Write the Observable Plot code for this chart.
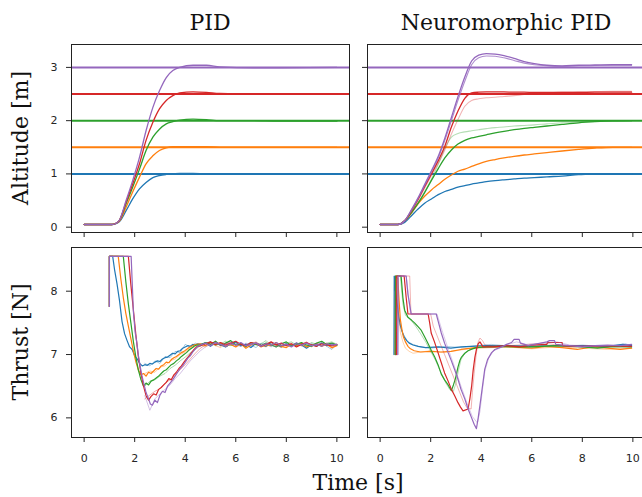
<!DOCTYPE html>
<html><head><meta charset="utf-8">
<script src="https://cdn.jsdelivr.net/npm/d3@7"></script>
<script src="https://cdn.jsdelivr.net/npm/@observablehq/plot@0.6"></script>
<style>
body{margin:0;background:#fff}
#fig{position:relative;width:642px;height:497px;overflow:hidden;background:#fff}
#fig svg{position:absolute}
</style></head><body><div id="fig"></div>
<script>
// ---------- categories / ticks ----------
const seriesNames = ["1.0 m","1.5 m","2.0 m","2.5 m","3.0 m"];
const colors = ["#1f77b4","#ff7f0e","#2ca02c","#d62728","#9467bd"];
const setpoints = [1, 1.5, 2, 2.5, 3];
const xTicks = [0,2,4,6,8,10];
const altTicks = [0,1,2,3];
const thrustTicks = [6,7,8];

// ---------- PID altitude (shared time grid) ----------
const pidAltT = [0,1.1,1.25,1.39,1.66,1.92,2.19,2.45,2.72,2.98,3.25,3.51,3.78,4.31,4.84,5.36,6.7,7.7,10.0];
const pidAltBlue   = [0.05,0.05,0.065,0.10,0.31,0.53,0.72,0.84,0.93,0.97,0.99,1.0,1.01,1.01,1.0,1.0,1.0,1.0,1.0];
const pidAltOrange = [0.05,0.05,0.07,0.11,0.375,0.66,0.94,1.19,1.34,1.44,1.49,1.51,1.51,1.51,1.51,1.5,1.5,1.5,1.5];
const pidAltGreen  = [0.05,0.05,0.07,0.125,0.44,0.75,1.09,1.44,1.69,1.84,1.94,1.98,2.01,2.03,2.02,2.0,2.0,1.99,1.99];
const pidAltRed    = [0.05,0.05,0.07,0.125,0.47,0.81,1.19,1.63,1.97,2.22,2.38,2.47,2.52,2.54,2.53,2.51,2.5,2.5,2.5];
const pidAltPurple = [0.05,0.05,0.07,0.125,0.5,0.875,1.31,1.81,2.25,2.56,2.81,2.94,3.0,3.04,3.04,3.01,2.99,2.99,3.0];

// ---------- Neuromorphic PID altitude (shared time grid) ----------
const npidAltT = [0,0.7,0.97,1.23,1.5,1.76,2.03,2.3,2.56,2.82,3.08,3.35,3.62,3.9,4.2,4.55,4.9,5.3,5.7,6.1,6.6,7.2,7.85,8.5,9.2,9.95];
const npidAltBlue    = [0.05,0.05,0.09,0.21,0.34,0.45,0.53,0.61,0.67,0.71,0.75,0.78,0.81,0.83,0.855,0.875,0.89,0.905,0.92,0.93,0.945,0.96,0.985,1.0,1.0,1.0];
const npidAltOrange  = [0.05,0.05,0.12,0.26,0.44,0.58,0.70,0.80,0.90,0.98,1.05,1.09,1.14,1.19,1.235,1.27,1.30,1.33,1.355,1.375,1.40,1.43,1.46,1.485,1.5,1.5];
const npidAltGreen   = [0.05,0.05,0.12,0.27,0.45,0.65,0.88,1.1,1.3,1.45,1.56,1.63,1.675,1.705,1.735,1.77,1.80,1.83,1.855,1.875,1.90,1.93,1.96,1.98,1.995,2.0];
const npidAltGreenB  = [0.05,0.05,0.12,0.27,0.45,0.66,0.9,1.18,1.48,1.69,1.76,1.79,1.81,1.83,1.85,1.87,1.88,1.90,1.91,1.92,1.94,1.96,1.97,1.985,1.995,2.0];
const npidAltRed     = [0.05,0.05,0.12,0.30,0.52,0.76,1.0,1.25,1.52,1.88,2.18,2.42,2.52,2.535,2.54,2.54,2.54,2.535,2.535,2.53,2.53,2.53,2.53,2.535,2.535,2.535];
const npidAltRedB    = [0.05,0.05,0.12,0.29,0.5,0.73,0.97,1.2,1.45,1.75,2.02,2.27,2.38,2.41,2.43,2.44,2.455,2.47,2.49,2.505,2.52,2.535,2.54,2.545,2.55,2.55];
const npidAltPurple  = [0.05,0.05,0.12,0.32,0.55,0.80,1.06,1.33,1.67,2.06,2.45,2.82,3.12,3.23,3.26,3.25,3.22,3.17,3.11,3.07,3.04,3.03,3.04,3.045,3.05,3.05];
const npidAltPurpleB = [0.05,0.05,0.12,0.31,0.54,0.78,1.04,1.30,1.63,2.0,2.38,2.74,3.05,3.18,3.215,3.21,3.18,3.13,3.08,3.05,3.03,3.02,3.03,3.035,3.04,3.04];

// ---------- PID thrust: transient [t, N] ----------
const pidThrBlue = [[1.0,7.76],[1.0,8.55],[1.13,8.55],[1.2,8.35],[1.3,8.12],[1.4,7.85],[1.5,7.52],[1.6,7.33],[1.7,7.22],[1.8,7.12],[1.9,7.08],[2.0,6.98],[2.1,6.93],[2.2,6.86],[2.3,6.82],[2.4,6.84],[2.5,6.83],[2.6,6.86],[2.7,6.85],[2.8,6.88],[2.9,6.90],[3.0,6.89],[3.1,6.93],[3.2,6.95],[3.3,6.96],[3.4,6.99],[3.5,7.02],[3.6,7.01],[3.7,7.05],[3.8,7.06],[3.9,7.10],[4.0,7.12],[4.1,7.14],[4.2,7.13],[4.3,7.16],[4.4,7.15],[4.5,7.17]];
const pidThrOrange = [[1.0,7.76],[1.0,8.55],[1.35,8.55],[1.45,8.2],[1.55,7.9],[1.65,7.65],[1.75,7.45],[1.85,7.25],[1.95,7.05],[2.05,6.88],[2.15,6.75],[2.25,6.68],[2.35,6.70],[2.45,6.66],[2.55,6.72],[2.65,6.70],[2.75,6.74],[2.85,6.78],[2.95,6.77],[3.05,6.82],[3.15,6.84],[3.25,6.88],[3.35,6.87],[3.45,6.92],[3.55,6.95],[3.65,6.97],[3.75,7.0],[3.85,7.03],[3.95,7.05],[4.05,7.08],[4.15,7.11],[4.25,7.13],[4.35,7.15],[4.45,7.16]];
const pidThrGreen = [[1.0,7.76],[1.0,8.55],[1.55,8.55],[1.65,8.15],[1.75,7.8],[1.85,7.5],[1.95,7.2],[2.05,6.95],[2.15,6.75],[2.25,6.6],[2.35,6.5],[2.45,6.55],[2.55,6.52],[2.65,6.58],[2.75,6.6],[2.85,6.63],[2.95,6.66],[3.05,6.70],[3.15,6.74],[3.25,6.76],[3.35,6.8],[3.45,6.84],[3.55,6.86],[3.65,6.9],[3.75,6.93],[3.85,6.97],[3.95,7.0],[4.05,7.03],[4.15,7.07],[4.25,7.1],[4.35,7.13],[4.45,7.15]];
const pidThrRed = [[1.0,7.76],[1.0,8.55],[1.75,8.55],[1.85,8.1],[1.95,7.7],[2.05,7.3],[2.15,6.95],[2.25,6.7],[2.35,6.5],[2.45,6.35],[2.55,6.28],[2.65,6.34],[2.75,6.38],[2.85,6.36],[2.95,6.45],[3.05,6.48],[3.15,6.52],[3.25,6.56],[3.35,6.62],[3.45,6.6],[3.55,6.68],[3.65,6.72],[3.75,6.78],[3.85,6.82],[3.95,6.88],[4.05,6.93],[4.15,6.98],[4.25,7.03],[4.35,7.08],[4.45,7.12]];
const pidThrPurple = [[1.0,7.76],[1.0,8.55],[1.86,8.55],[1.95,7.67],[2.02,7.35],[2.08,7.2],[2.15,6.98],[2.21,6.83],[2.28,6.68],[2.35,6.56],[2.45,6.4],[2.55,6.3],[2.62,6.22],[2.7,6.2],[2.8,6.28],[2.9,6.24],[3.0,6.36],[3.1,6.42],[3.2,6.4],[3.3,6.5],[3.4,6.55],[3.5,6.6],[3.6,6.66],[3.7,6.72],[3.8,6.78],[3.9,6.82],[4.0,6.88],[4.1,6.94],[4.2,6.98],[4.3,7.04],[4.4,7.09],[4.5,7.13]];
// PID thrust: settled part on a shared time grid
const pidSettleT = [4.6,4.8,5.0,5.2,5.4,5.6,5.8,6.0,6.2,6.4,6.6,6.8,7.0,7.2,7.4,7.6,7.8,8.0,8.2,8.4,8.6,8.8,9.0,9.2,9.4,9.6,9.8,10.0];
const pidSetBlue   = [7.16,7.18,7.13,7.19,7.15,7.12,7.17,7.20,7.14,7.16,7.11,7.18,7.15,7.13,7.19,7.16,7.12,7.17,7.14,7.18,7.15,7.10,7.16,7.13,7.18,7.14,7.17,7.15];
const pidSetOrange = [7.17,7.14,7.19,7.15,7.18,7.13,7.16,7.12,7.17,7.10,7.15,7.18,7.12,7.16,7.14,7.19,7.13,7.11,7.16,7.14,7.18,7.12,7.15,7.17,7.13,7.16,7.11,7.14];
const pidSetGreen  = [7.15,7.19,7.16,7.21,7.14,7.18,7.22,7.15,7.17,7.13,7.19,7.16,7.14,7.18,7.15,7.12,7.17,7.20,7.14,7.16,7.19,7.15,7.13,7.18,7.21,7.16,7.18,7.15];
const pidSetRed    = [7.14,7.17,7.20,7.16,7.19,7.15,7.18,7.21,7.16,7.14,7.19,7.17,7.13,7.16,7.20,7.15,7.18,7.14,7.17,7.12,7.16,7.19,7.15,7.13,7.17,7.15,7.14,7.16];
const pidSetPurple = [7.15,7.18,7.14,7.19,7.16,7.13,7.17,7.15,7.19,7.14,7.16,7.18,7.13,7.17,7.15,7.19,7.14,7.16,7.12,7.17,7.15,7.18,7.14,7.16,7.13,7.17,7.15,7.16];
// PID thrust: fainter repeat runs (from the dip onward)
const pidFaintT = [2.4,2.6,2.8,3.0,3.2,3.4,3.6,3.8,4.0,4.2,4.4,4.6,4.8,5.0,5.2,5.4,5.6,5.8,6.0,6.2,6.4,6.6,6.8,7.0,7.2,7.4,7.6,7.8,8.0,8.2,8.4,8.6,8.8,9.0,9.2,9.4,9.6,9.8,10.0];
const pidFaintBlue   = [6.86,6.82,6.9,6.86,6.97,6.95,7.05,7.03,7.16,7.12,7.18,7.13,7.17,7.2,7.14,7.18,7.12,7.16,7.19,7.13,7.17,7.15,7.11,7.18,7.16,7.12,7.19,7.14,7.16,7.13,7.18,7.15,7.12,7.17,7.15,7.19,7.13,7.08,7.16];
const pidFaintOrange = [6.7,6.74,6.72,6.8,6.82,6.9,6.93,7.0,7.04,7.1,7.12,7.15,7.12,7.17,7.14,7.11,7.18,7.15,7.13,7.17,7.12,7.16,7.19,7.14,7.12,7.17,7.15,7.11,7.16,7.14,7.18,7.13,7.15,7.12,7.17,7.14,7.16,7.10,7.15];
const pidFaintGreen  = [6.5,6.58,6.6,6.66,6.7,6.78,6.83,6.9,6.96,7.03,7.08,7.14,7.18,7.2,7.15,7.17,7.21,7.14,7.18,7.16,7.12,7.19,7.15,7.17,7.22,7.14,7.16,7.13,7.18,7.2,7.15,7.17,7.14,7.19,7.16,7.13,7.18,7.2,7.16];
const pidFaintRed    = [6.3,6.36,6.42,6.46,6.55,6.6,6.68,6.76,6.84,6.93,7.02,7.1,7.15,7.18,7.2,7.14,7.17,7.19,7.15,7.18,7.13,7.17,7.2,7.15,7.16,7.19,7.14,7.17,7.15,7.18,7.13,7.16,7.2,7.14,7.17,7.15,7.18,7.13,7.16];
const pidFaintPurple = [6.35,6.12,6.3,6.38,6.45,6.52,6.62,6.7,6.8,6.9,6.98,7.06,7.12,7.16,7.18,7.14,7.17,7.2,7.15,7.13,7.18,7.16,7.19,7.14,7.17,7.15,7.12,7.18,7.16,7.14,7.19,7.15,7.17,7.13,7.16,7.18,7.14,7.17,7.15];

// ---------- Neuromorphic PID thrust [t, N] ----------
const npThrBlue = [[0.55,7.0],[0.56,8.24],[0.62,7.95],[0.68,7.78],[0.74,7.60],[0.8,7.46],[0.88,7.35],[0.96,7.27],[1.05,7.22],[1.15,7.18],[1.3,7.15],[1.5,7.13],[1.8,7.11],[2.3,7.12],[2.8,7.10],[3.2,7.12],[3.6,7.13],[4.2,7.14],[5.0,7.14],[6.0,7.13],[7.0,7.14],[8.0,7.14],[9.0,7.13],[9.6,7.16],[9.95,7.14]];
const npThrBlueB = [[0.55,7.0],[0.56,8.24],[0.6,8.0],[0.68,7.7],[0.76,7.5],[0.85,7.38],[0.95,7.3],[1.1,7.2],[1.3,7.16],[1.6,7.12],[2.0,7.1],[2.6,7.13],[3.2,7.11],[3.8,7.14],[4.4,7.16],[5.2,7.13],[6.2,7.15],[7.0,7.12],[8.0,7.15],[9.0,7.12],[9.7,7.17],[9.95,7.14]];
const npThrOrange = [[0.6,7.0],[0.61,8.24],[0.7,8.2],[0.75,7.85],[0.8,7.55],[0.86,7.4],[0.92,7.28],[1.0,7.2],[1.1,7.13],[1.2,7.09],[1.35,7.06],[1.6,7.04],[2.0,7.05],[2.4,7.04],[2.8,7.05],[3.2,7.08],[3.6,7.10],[4.0,7.12],[4.6,7.13],[5.2,7.12],[6.0,7.10],[6.6,7.13],[7.2,7.11],[7.8,7.08],[8.4,7.12],[9.0,7.10],[9.5,7.08],[9.95,7.10]];
const npThrOrangeB = [[0.6,7.0],[0.61,8.24],[0.68,8.0],[0.74,7.6],[0.8,7.35],[0.9,7.2],[1.0,7.1],[1.15,7.05],[1.3,7.02],[1.6,7.04],[2.0,7.06],[2.5,7.03],[3.0,7.06],[3.5,7.09],[4.0,7.1],[5.0,7.12],[6.0,7.09],[7.0,7.12],[8.0,7.1],[9.0,7.08],[9.95,7.1]];
const npThrGreen = [[0.6,7.0],[0.61,8.24],[0.83,8.24],[0.9,7.9],[0.97,7.7],[1.1,7.59],[1.25,7.54],[1.36,7.5],[1.5,7.44],[1.63,7.38],[1.76,7.28],[1.9,7.17],[2.03,7.06],[2.16,6.96],[2.29,6.84],[2.42,6.69],[2.55,6.6],[2.69,6.52],[2.82,6.43],[2.9,6.52],[2.98,6.62],[3.08,6.8],[3.15,6.9],[3.22,6.96],[3.35,7.02],[3.48,7.06],[3.65,7.09],[3.81,7.11],[4.2,7.12],[5.0,7.13],[6.0,7.12],[7.0,7.14],[8.0,7.12],[8.6,7.10],[9.2,7.13],[9.95,7.12]];
const npThrGreenB = [[0.6,7.0],[0.61,8.24],[0.8,8.24],[0.9,7.8],[1.0,7.62],[1.2,7.55],[1.4,7.45],[1.6,7.33],[1.8,7.2],[2.0,7.05],[2.2,6.9],[2.4,6.72],[2.6,6.55],[2.75,6.45],[2.9,6.42],[3.0,6.55],[3.1,6.75],[3.2,6.92],[3.35,7.02],[3.55,7.08],[3.8,7.11],[4.5,7.12],[5.5,7.11],[6.5,7.13],[7.5,7.14],[8.5,7.11],[9.95,7.12]];
const npThrRed = [[0.65,7.0],[0.66,8.24],[0.95,8.24],[1.03,7.9],[1.1,7.64],[1.9,7.64],[1.96,7.5],[2.02,7.34],[2.15,7.2],[2.29,7.03],[2.42,6.87],[2.55,6.71],[2.69,6.58],[2.82,6.45],[2.95,6.35],[3.08,6.24],[3.18,6.17],[3.28,6.11],[3.48,6.14],[3.55,6.3],[3.62,6.5],[3.68,6.75],[3.75,6.96],[3.82,7.1],[3.88,7.17],[3.95,7.2],[4.07,7.12],[4.5,7.12],[5.0,7.14],[5.5,7.12],[6.0,7.15],[6.6,7.16],[6.62,7.19],[7.2,7.19],[7.22,7.14],[8.0,7.13],[9.0,7.14],[9.95,7.13]];
const npThrRedB = [[0.62,7.0],[0.63,8.24],[1.17,8.24],[1.22,7.64],[2.0,7.64],[2.1,7.45],[2.25,7.3],[2.4,7.15],[2.55,7.0],[2.7,6.85],[2.85,6.7],[3.0,6.55],[3.15,6.4],[3.3,6.25],[3.45,6.15],[3.6,6.14],[3.65,6.4],[3.72,6.7],[3.8,7.0],[3.88,7.2],[3.95,7.26],[4.05,7.22],[4.15,7.15],[4.5,7.13],[5.5,7.15],[6.5,7.18],[7.5,7.12],[8.5,7.14],[9.95,7.13]];
const npThrPurple = [[0.7,7.0],[0.71,8.24],[1.03,8.24],[1.1,7.95],[1.23,7.64],[2.22,7.64],[2.3,7.52],[2.42,7.34],[2.55,7.18],[2.69,7.03],[2.82,6.9],[2.95,6.76],[3.08,6.61],[3.2,6.45],[3.35,6.3],[3.48,6.14],[3.6,6.02],[3.72,5.9],[3.81,5.83],[3.88,6.0],[3.95,6.2],[4.05,6.5],[4.14,6.77],[4.25,6.92],[4.41,7.03],[4.54,7.08],[4.8,7.12],[5.0,7.16],[5.2,7.19],[5.3,7.24],[5.5,7.24],[5.55,7.18],[5.86,7.14],[6.2,7.17],[6.6,7.2],[6.7,7.22],[6.9,7.22],[6.95,7.16],[7.5,7.14],[8.0,7.12],[8.5,7.14],[9.0,7.15],[9.5,7.14],[9.95,7.16]];
const npThrPurpleB = [[0.7,7.0],[0.71,8.24],[1.03,8.24],[1.2,7.64],[2.25,7.64],[2.45,7.38],[2.7,7.08],[2.95,6.8],[3.2,6.5],[3.45,6.22],[3.65,6.02],[3.85,5.92],[3.95,6.1],[4.05,6.45],[4.15,6.75],[4.3,6.95],[4.5,7.06],[5.0,7.15],[5.4,7.2],[5.8,7.16],[6.5,7.18],[7.0,7.2],[7.5,7.15],[8.5,7.13],[9.95,7.15]];

// ---------- helpers ----------
const zipT = (ts, vs) => ts.map((t, i) => ({t, v: vs[i]}));
const pairs = (arr) => arr.map(([t, v]) => ({t, v}));
const fig = document.getElementById("fig");

function lineMark(rows, color, opts = {}) {
  return Plot.line(rows, {x: "t", y: "v", stroke: color, strokeWidth: opts.w ?? 1.3,
    strokeOpacity: opts.o ?? 1, curve: opts.curve ?? "linear"});
}

function panel({fx, fy, yDomain, yTicks, showX, showY, marks}) {
  const mL = 50, mR = 6, mT = 10, mB = 40;
  const width = mL + (fx[1] - fx[0]) + mR;
  const height = mT + (fy[1] - fy[0]) + mB;
  const svg = Plot.plot({
    width, height, marginLeft: mL, marginRight: mR, marginTop: mT, marginBottom: mB,
    x: {domain: [-0.5, 10.5]},
    y: {domain: yDomain},
    style: {background: "transparent", fontFamily: "DejaVu Sans, sans-serif", fontSize: "11px", color: "#262626", overflow: "visible"},
    marks: [
      ...marks,
      Plot.axisX({ticks: xTicks, tickSize: 5, tickPadding: 12, label: null,
        tickFormat: showX ? (d => String(d)) : (() => "")}),
      Plot.axisY({ticks: yTicks, tickSize: 5, tickPadding: 9, label: null,
        tickFormat: showY ? (d => String(d)) : (() => "")}),
      Plot.frame({stroke: "#222", strokeWidth: 1})
    ]
  });
  svg.style.position = "absolute";
  svg.style.left = (fx[0] - mL) + "px";
  svg.style.top = (fy[0] - mT) + "px";
  fig.appendChild(svg);
}

const FXL = [71, 349], FXR = [367, 645], FYT = [44, 232], FYB = [247, 437];
const altDomain = [-0.1, 3.43], thrDomain = [5.69, 8.69];

// PID altitude
const pidAlt = [pidAltBlue, pidAltOrange, pidAltGreen, pidAltRed, pidAltPurple];
panel({fx: FXL, fy: FYT, yDomain: altDomain, yTicks: altTicks, showX: false, showY: true,
  marks: pidAlt.flatMap((vals, i) => [
    Plot.ruleY([setpoints[i]], {stroke: colors[i], strokeWidth: 2}),
    lineMark(zipT(pidAltT, vals), colors[i], {curve: "monotone-x"})
  ])});

// Neuromorphic altitude
const npAltMain = [npidAltBlue, npidAltOrange, npidAltGreen, npidAltRed, npidAltPurple];
const npAltFaint = [null, null, npidAltGreenB, npidAltRedB, npidAltPurpleB];
panel({fx: FXR, fy: FYT, yDomain: altDomain, yTicks: altTicks, showX: false, showY: false,
  marks: npAltMain.flatMap((vals, i) => [
    Plot.ruleY([setpoints[i]], {stroke: colors[i], strokeWidth: 2}),
    ...(npAltFaint[i] ? [lineMark(zipT(npidAltT, npAltFaint[i]), colors[i], {curve: "monotone-x", o: i === 4 ? 0.75 : 0.35, w: 1.1})] : []),
    lineMark(zipT(npidAltT, vals), colors[i], {curve: "monotone-x"})
  ])});

// PID thrust
const pidThr = [pidThrBlue, pidThrOrange, pidThrGreen, pidThrRed, pidThrPurple];
const pidSet = [pidSetBlue, pidSetOrange, pidSetGreen, pidSetRed, pidSetPurple];
const pidFaint = [pidFaintBlue, pidFaintOrange, pidFaintGreen, pidFaintRed, pidFaintPurple];
panel({fx: FXL, fy: FYB, yDomain: thrDomain, yTicks: thrustTicks, showX: true, showY: true,
  marks: pidThr.flatMap((tr, i) => [
    lineMark(zipT(pidFaintT, pidFaint[i]), colors[i], {w: 1, o: 0.4}),
    lineMark(pairs(tr).concat(zipT(pidSettleT, pidSet[i])), colors[i], {w: 1.2})
  ])});

// Neuromorphic thrust
const npThr = [npThrBlue, npThrOrange, npThrGreen, npThrRed, npThrPurple];
const npThrB = [npThrBlueB, npThrOrangeB, npThrGreenB, npThrRedB, npThrPurpleB];
panel({fx: FXR, fy: FYB, yDomain: thrDomain, yTicks: thrustTicks, showX: true, showY: false,
  marks: npThr.flatMap((tr, i) => [
    lineMark(pairs(npThrB[i]), colors[i], {o: 0.35, w: 1}),
    lineMark(pairs(tr), colors[i], {w: 1.2})
  ])});

// ---------- text overlay ----------
const ov = d3.create("svg").attr("width", 642).attr("height", 497)
  .style("left", "0px").style("top", "0px")
  .attr("font-family", "DejaVu Serif, serif").attr("font-size", 22).attr("fill", "#111");
ov.append("text").attr("x", 210).attr("y", 30).attr("text-anchor", "middle").text("PID");
ov.append("text").attr("x", 506).attr("y", 30).attr("text-anchor", "middle").text("Neuromorphic PID");
ov.append("text").attr("x", 358).attr("y", 490).attr("text-anchor", "middle").text("Time [s]");
ov.append("text").attr("transform", "translate(28,138) rotate(-90)").attr("text-anchor", "middle").text("Altitude [m]");
ov.append("text").attr("transform", "translate(28,342) rotate(-90)").attr("text-anchor", "middle").text("Thrust [N]");
fig.appendChild(ov.node());
</script></body></html>
